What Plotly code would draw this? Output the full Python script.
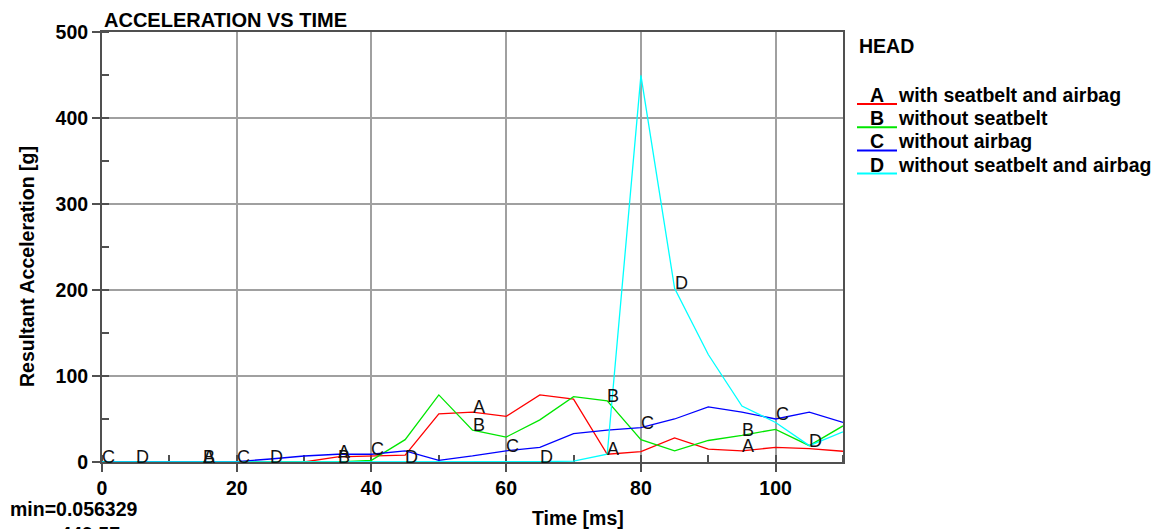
import plotly.graph_objects as go

# ---------------- data ----------------
time_ms = [0, 5, 10, 15, 20, 25, 30, 35, 40, 45, 50, 55, 60, 65, 70, 75, 80, 85, 90, 95, 100, 105, 110]

acc_A = [0, 0, 0, 0, 0, 0, 0, 6, 7, 8, 56, 58, 53, 78, 73, 9, 12, 28, 15, 13, 17, 15.5, 12.5]
acc_B = [0, 0, 0, 0, 0, 0, 0, 0, 2, 26, 78, 37, 29, 49, 76, 71, 26, 13, 25, 31, 38, 19, 42]
acc_C = [0, 0, 0, 0, 0.5, 3.5, 7, 9, 9, 13, 2, 7, 13, 17, 33, 37, 40, 50, 64, 58, 50, 58, 46]
acc_D = [0, 0, 0, 0, 0, 0, 0, 0.5, 0.5, 0.5, 0.5, 0.5, 0.5, 0.5, 1, 9, 449.57, 202, 125, 65, 46, 19, 35]

series_letters = ["A", "B", "C", "D"]
series_names = ["with seatbelt and airbag", "without seatbelt", "without airbag",
                "without seatbelt and airbag"]
series_colors = ["#ff0000", "#00e600", "#0000ff", "#00ffff"]
series_values = [acc_A, acc_B, acc_C, acc_D]
label_times = [[15, 35, 55, 75, 95], [15, 35, 55, 75, 95],
               [0, 20, 40, 60, 80, 100], [5, 25, 45, 65, 85, 105]]

x_ticks = [0, 20, 40, 60, 80, 100]
y_ticks = [0, 100, 200, 300, 400, 500]

title_text = "ACCELERATION VS TIME"
legend_title = "HEAD"
x_title = "Time [ms]"
y_title = "Resultant Acceleration [g]"
stats_text = "min=0.056329<br>max=449.57"

# ---------------- layout helpers ----------------
W, H = 1160, 529
L, R, T, B = 102, 843, 32, 462
FONT = "Liberation Sans, Arial, sans-serif"
BIG = 19.5
LABEL = 18


def px2x(px):
    return (px - L) / (R - L)


def px2y(py):
    return (B - py) / (B - T)


fig = go.Figure()
annotations = []

for letter, name, color, vals, lt in zip(series_letters, series_names, series_colors,
                                         series_values, label_times):
    fig.add_trace(go.Scatter(
        x=time_ms, y=vals, mode="lines", name=name,
        line=dict(color=color, width=1.3),
        showlegend=False, cliponaxis=False,
    ))
    # curve letters sitting on the curve at the labelled samples
    for t, v in zip(time_ms, vals):
        if t in lt:
            annotations.append(dict(
                text=letter, x=t, y=v, xref="x", yref="y",
                xanchor="left", yanchor="middle", xshift=-1, yshift=5,
                borderpad=0, showarrow=False,
                font=dict(family=FONT, size=LABEL, color="#111111")))

axis_common = dict(
    showline=True, linecolor="#505050", linewidth=2, mirror=True,
    showgrid=True, gridcolor="#a0a0a0", gridwidth=1.5,
    zeroline=False, ticks="outside", ticklen=8, tickwidth=1.5, tickcolor="#505050",
    tickfont=dict(family=FONT, size=BIG, color="black", weight="bold"),
    layer="below traces", fixedrange=True,
)

fig.update_layout(
    width=W, height=H,
    margin=dict(l=L, r=W - R, t=T, b=H - B, pad=0),
    paper_bgcolor="white", plot_bgcolor="white",
    showlegend=False,
    title=dict(text=title_text, x=104 / W, xanchor="left", xref="container",
               y=1 - 20 / H, yanchor="middle", yref="container",
               font=dict(family=FONT, size=20, color="black", weight="bold")),
    xaxis=dict(range=[0, 110], tickvals=x_ticks,
               minor=dict(dtick=10, tick0=0, ticks="inside", ticklen=7, tickwidth=1.5,
                          tickcolor="#505050", showgrid=False),
               **axis_common),
    yaxis=dict(range=[0, 500], tickvals=y_ticks,
               minor=dict(dtick=50, tick0=0, ticks="inside", ticklen=7, tickwidth=1.5,
                          tickcolor="#505050", showgrid=False),
               **axis_common),
    xaxis2=dict(range=[0, 110], tickvals=x_ticks, overlaying="x", side="top", anchor="y",
                ticks="inside", ticklen=8, tickwidth=1.5, tickcolor="#505050",
                showticklabels=False, showgrid=False, showline=False, zeroline=False,
                fixedrange=True),
    yaxis2=dict(range=[0, 500], tickvals=y_ticks, overlaying="y", side="right", anchor="x",
                ticks="inside", ticklen=7, tickwidth=1.5, tickcolor="#505050",
                showticklabels=False, showgrid=False, showline=False, zeroline=False,
                fixedrange=True),
)

annotations += [
    dict(text=x_title, x=px2x(578), y=px2y(518), xref="paper", yref="paper",
         xanchor="center", yanchor="middle", showarrow=False,
         font=dict(family=FONT, size=BIG, color="black", weight="bold")),
    dict(text=y_title, x=px2x(27), y=px2y(267), xref="paper", yref="paper",
         xanchor="center", yanchor="middle", textangle=-90, showarrow=False,
         font=dict(family=FONT, size=BIG, color="black", weight="bold")),
    dict(text=stats_text, x=px2x(8), y=px2y(496), xref="paper", yref="paper",
         xanchor="left", yanchor="top", align="left", showarrow=False,
         font=dict(family=FONT, size=BIG, color="black", weight="bold")),
    dict(text=legend_title, x=px2x(857), y=px2y(46), xref="paper", yref="paper",
         xanchor="left", yanchor="middle", showarrow=False,
         font=dict(family=FONT, size=BIG, color="black", weight="bold")),
]

shapes = []
for i, (letter, name, color) in enumerate(zip(series_letters, series_names, series_colors)):
    yc = 95 + i * 23.2
    annotations.append(dict(text=letter, x=px2x(877), y=px2y(yc), xref="paper", yref="paper",
                            xanchor="center", yanchor="middle", showarrow=False,
                            font=dict(family=FONT, size=BIG, color="black", weight="bold")))
    annotations.append(dict(text=name, x=px2x(896), y=px2y(yc), xref="paper", yref="paper",
                            xanchor="left", yanchor="middle", showarrow=False,
                            font=dict(family=FONT, size=BIG, color="black", weight="bold")))
    shapes.append(dict(type="line", xref="paper", yref="paper",
                       x0=px2x(857), x1=px2x(897), y0=px2y(yc + 9), y1=px2y(yc + 9),
                       line=dict(color=color, width=2)))

fig.update_layout(annotations=annotations, shapes=shapes)

fig.write_html("out.html")
